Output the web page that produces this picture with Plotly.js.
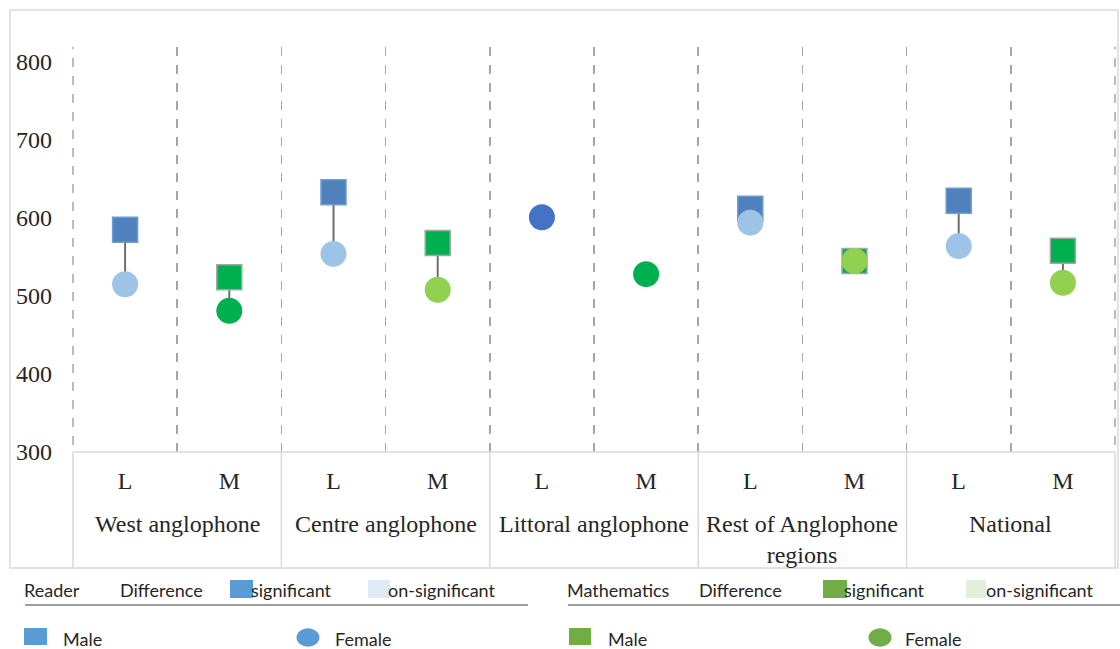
<!DOCTYPE html>
<html>
<head>
<meta charset="utf-8">
<script src="https://cdn.plot.ly/plotly-3.0.1.min.js"></script>
<style>html,body{margin:0;padding:0;background:#fff;}</style>
</head>
<body>
<div id="chart" style="width:1120px;height:649px;"></div>
<script>
// ---- data ----
const groups = ["West anglophone", "Centre anglophone", "Littoral anglophone", "Rest of Anglophone<br>regions", "National"];
const subjects = ["L", "M", "L", "M", "L", "M", "L", "M", "L", "M"];
const maleScores = [585, 524, 633, 568, null, null, 612, 545, 622, 558];
const femaleScores = [515, 481, 554, 508, null, null, 594, 545, 564, 517];
const overallScores = [null, null, null, null, 601, 528, null, null, null, null];
const yTicks = [300, 400, 500, 600, 700, 800];

// ---- styles ----
const maleColors = ["#4F81BD", "#00B050", "#4F81BD", "#00B050", null, null, "#4F81BD", "#00B050", "#4F81BD", "#00B050"];
const maleLine = ["#6F9BD1", "#A6A6A6", "#6F9BD1", "#A6A6A6", null, null, "#6F9BD1", "#A6A6A6", "#6F9BD1", "#A6A6A6"];
const femaleColors = ["#9DC3E6", "#00B050", "#9DC3E6", "#92D050", null, null, "#9DC3E6", "#92D050", "#9DC3E6", "#92D050"];
const overallColors = [null, null, null, null, "#4472C4", "#00B050", null, null, null, null];

const xs = subjects.map((_, i) => i);

// connector lines male -> female
const lx = [], ly = [];
xs.forEach(i => {
  if (maleScores[i] != null && femaleScores[i] != null) {
    lx.push(i, i, null); ly.push(maleScores[i], femaleScores[i], null);
  }
});

const traces = [
  {x: lx, y: ly, mode: 'lines', line: {color: '#6E6E6E', width: 2}, hoverinfo: 'skip'},
  {x: xs, y: maleScores, mode: 'markers', name: 'Male',
   marker: {symbol: 'square', size: 25, color: maleColors, line: {color: maleLine, width: 1.5}}},
  {x: xs, y: femaleScores, mode: 'markers', name: 'Female',
   marker: {symbol: 'circle', size: 26, color: femaleColors, line: {width: 0}}},
  {x: xs, y: overallScores, mode: 'markers', name: 'All',
   marker: {symbol: 'circle', size: 26, color: overallColors, line: {width: 0}}}
];

// ---- geometry helpers (pixel -> paper) ----
const L = 73, T = 47, W = 1042, H = 405;
const px = v => (v - L) / W;
const py = v => (T + H - v) / H;

const serif = 'Liberation Serif, Times New Roman, serif';
const sans = 'Lato, Noto Sans, sans-serif';
const txt = '#262626';

const shapes = [];
const annotations = [];

// outer border
shapes.push({type: 'rect', xref: 'paper', yref: 'paper', x0: px(10), x1: px(1118), y0: py(568), y1: py(10),
  line: {color: '#D9D9D9', width: 1.5}, layer: 'below'});
// edge dashed gridlines (inner ones come from the axis minor grid)
[0, 1].forEach(xv => {
  shapes.push({type: 'line', xref: 'paper', yref: 'paper', x0: xv, x1: xv, y0: py(445), y1: 1,
    line: {color: '#A6A6A6', width: 1.5, dash: 'dash'}});
});
// table top line
shapes.push({type: 'line', xref: 'paper', yref: 'paper', x0: 0, x1: 1, y0: 0, y1: 0,
  line: {color: '#D9D9D9', width: 1.5}});
// table group separators
for (let g = 0; g <= groups.length; g++) {
  const xv = (2 * g) / subjects.length;
  shapes.push({type: 'line', xref: 'paper', yref: 'paper', x0: xv, x1: xv, y0: 0, y1: py(568),
    line: {color: '#D9D9D9', width: 1.5}});
}
// group labels
groups.forEach((g, i) => {
  annotations.push({text: g, xref: 'x', yref: 'paper', x: 2 * i + 0.5, y: py(509), yanchor: 'top', xanchor: 'center',
    showarrow: false, font: {family: serif, size: 24, color: txt}});
});

// ---- legend (drawn) ----
function ltext(t, x, y) {
  annotations.push({text: t, xref: 'paper', yref: 'paper', x: px(x), y: py(y), xanchor: 'left', yanchor: 'middle',
    showarrow: false, font: {family: sans, size: 18, color: txt}});
}
function lrect(x0, x1, y0, y1, c) {
  shapes.push({type: 'rect', xref: 'paper', yref: 'paper', x0: px(x0), x1: px(x1), y0: py(y1), y1: py(y0),
    fillcolor: c, line: {width: 0}});
}
function lcirc(cx, cy, r, c) {
  shapes.push({type: 'circle', xref: 'paper', yref: 'paper', x0: px(cx - r), x1: px(cx + r), y0: py(cy + r * 0.8), y1: py(cy - r * 0.8),
    fillcolor: c, line: {width: 0}});
}
function lline(x0, x1, y) {
  shapes.push({type: 'line', xref: 'paper', yref: 'paper', x0: px(x0), x1: px(x1), y0: py(y), y1: py(y),
    line: {color: '#404040', width: 1.2}});
}
// reading
ltext('Reader', 22, 590); ltext('Difference', 118, 590);
lrect(230, 253, 580, 598, '#5B9BD5'); ltext('significant', 249, 590);
lrect(368, 390, 580, 598, '#DEEBF7'); ltext('on-significant', 386, 590);
lline(25, 528, 605);
lrect(24, 47, 628, 645, '#5B9BD5'); ltext('Male', 61, 639);
lcirc(308, 637.5, 11.5, '#5B9BD5'); ltext('Female', 333, 639);
// mathematics
ltext('Mathematics', 565, 590); ltext('Difference', 697, 590);
lrect(823, 847, 580, 598, '#70AD47'); ltext('significant', 842, 590);
lrect(966, 986, 580, 598, '#E2F0D9'); ltext('on-significant', 984, 590);
lline(568, 1120, 605);
lrect(569, 591, 628, 645, '#70AD47'); ltext('Male', 606, 639);
lcirc(880, 637.5, 11.5, '#70AD47'); ltext('Female', 903, 639);

const boundaries = [];
for (let i = 0; i <= subjects.length; i++) boundaries.push(i - 0.5);

const layout = {
  width: 1120, height: 649,
  margin: {l: L, r: 1120 - L - W, t: T, b: 649 - T - H, pad: 0},
  paper_bgcolor: '#ffffff', plot_bgcolor: '#ffffff',
  showlegend: false,
  xaxis: {
    range: [-0.5, 9.5], tickmode: 'array', tickvals: xs, ticktext: subjects,
    showgrid: false, zeroline: false, showline: false, ticks: '',
    tickfont: {family: serif, size: 24, color: txt}, ticklabelstandoff: 12,
    minor: {tickmode: 'array', tickvals: boundaries, showgrid: true, gridcolor: '#A6A6A6', griddash: 'dash', gridwidth: 1.5, ticks: ''},
    fixedrange: true
  },
  yaxis: {
    range: [300, 300 + H / 0.78], tickmode: 'array', tickvals: yTicks,
    showgrid: false, zeroline: false, showline: false, ticks: '',
    tickfont: {family: serif, size: 24, color: txt}, ticklabelstandoff: 20,
    fixedrange: true
  },
  shapes: shapes,
  annotations: annotations
};

Plotly.newPlot('chart', traces, layout, {displayModeBar: false, staticPlot: true});
</script>
</body>
</html>
